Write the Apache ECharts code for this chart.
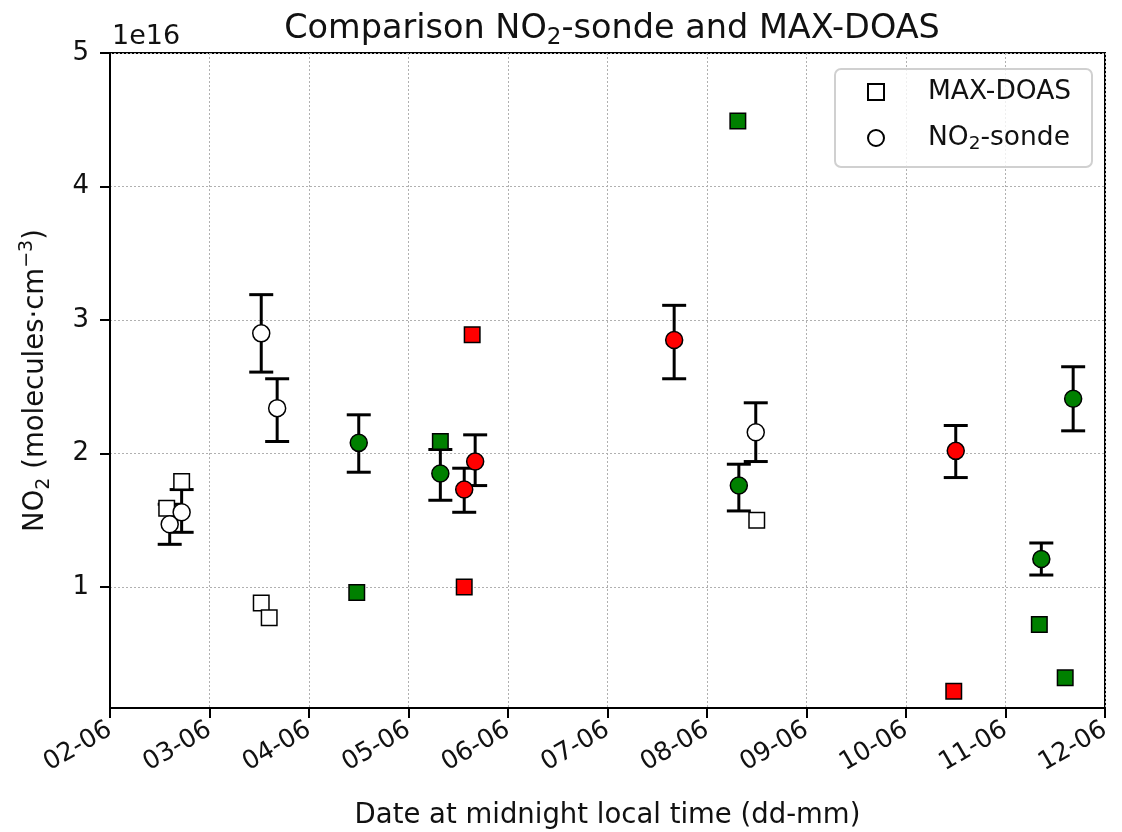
<!DOCTYPE html>
<html>
<head>
<meta charset="utf-8">
<script src="https://cdn.jsdelivr.net/npm/echarts@6/dist/echarts.min.js"></script>
<style>html,body{margin:0;padding:0;background:#fff}#c{width:1122px;height:832px}</style>
</head>
<body>
<div id="c"></div>
<script>
// x: day of June (fractional), y: NO2 in units of 1e16 molecules/cm^3
const xTickLabels = ['02-06','03-06','04-06','05-06','06-06','07-06','08-06','09-06','10-06','11-06','12-06'];
const yTickValues = [1, 2, 3, 4, 5];

// MAX-DOAS (squares)
const doasWhiteX = [2.57, 2.72, 3.52, 3.60, 8.50];
const doasWhiteY = [1.59, 1.79, 0.88, 0.77, 1.50];
const doasGreenX = [4.48, 5.32, 8.31, 11.34, 11.60];
const doasGreenY = [0.96, 2.09, 4.49, 0.72, 0.32];
const doasRedX = [5.64, 5.56, 10.48];
const doasRedY = [2.89, 1.00, 0.22];

// NO2-sonde (circles) with error bars
const sondeWhiteX = [2.60, 2.72, 3.52, 3.68, 8.49];
const sondeWhiteY = [1.47, 1.56, 2.90, 2.34, 2.16];
const sondeWhiteLo = [1.32, 1.41, 2.61, 2.09, 1.94];
const sondeWhiteHi = [1.62, 1.73, 3.19, 2.56, 2.38];

const sondeGreenX = [4.50, 5.32, 8.32, 11.36, 11.68];
const sondeGreenY = [2.08, 1.85, 1.76, 1.21, 2.41];
const sondeGreenLo = [1.86, 1.65, 1.57, 1.09, 2.17];
const sondeGreenHi = [2.29, 2.03, 1.92, 1.33, 2.65];

const sondeRedX = [5.56, 5.67, 7.67, 10.50];
const sondeRedY = [1.73, 1.94, 2.85, 2.02];
const sondeRedLo = [1.56, 1.76, 2.56, 1.82];
const sondeRedHi = [1.89, 2.14, 3.11, 2.21];

const FONT = 'DejaVu Sans';
const zip2 = (a, b) => a.map((v, i) => [v, b[i]]);
const zip3 = (a, b, c) => a.map((v, i) => [v, b[i], c[i]]);

function errSeries(x, lo, hi) {
  return {
    type: 'custom',
    silent: true,
    z: 2,
    data: zip3(x, lo, hi),
    encode: { x: 0, y: [1, 2] },
    renderItem: function (params, api) {
      const xv = api.value(0);
      const p1 = api.coord([xv, api.value(1)]);
      const p2 = api.coord([xv, api.value(2)]);
      const w = 12;
      const st = { stroke: '#000', lineWidth: 3 };
      return {
        type: 'group',
        children: [
          { type: 'line', shape: { x1: p1[0], y1: p1[1], x2: p2[0], y2: p2[1] }, style: st },
          { type: 'line', shape: { x1: p1[0] - w, y1: p1[1], x2: p1[0] + w, y2: p1[1] }, style: st },
          { type: 'line', shape: { x1: p2[0] - w, y1: p2[1], x2: p2[0] + w, y2: p2[1] }, style: st }
        ]
      };
    }
  };
}
function pts(name, x, y, symbol, color, size) {
  return {
    name: name,
    type: 'scatter',
    symbol: symbol,
    symbolSize: size,
    z: 3,
    data: zip2(x, y),
    itemStyle: { color: color, borderColor: '#000', borderWidth: 1.5, opacity: 1 },
    emphasis: { disabled: true }
  };
}

const chart = echarts.init(document.getElementById('c'), null, { renderer: 'canvas' });
const option = {
  backgroundColor: '#fff',
  animation: false,
  textStyle: { fontFamily: FONT },
  title: {
    text: 'Comparison NO{sub|2}-sonde and MAX-DOAS',
    left: 607,
    top: 3,
    textAlign: 'center',
    textStyle: {
      fontFamily: FONT, fontSize: 33.5, fontWeight: 'normal', color: '#111', lineHeight: 42,
      rich: { sub: { fontFamily: FONT, fontSize: 23, verticalAlign: 'bottom', lineHeight: 42 } }
    }
  },
  graphic: [
    {
      type: 'text', left: 112, top: 23,
      style: { text: '1e16', fontFamily: FONT, fontSize: 27, fill: '#111' }
    },
    {
      type: 'rect', z: 3,
      shape: { x: 835, y: 69, width: 257, height: 98, r: 6 },
      style: { fill: 'rgba(255,255,255,0.8)', stroke: '#d0d0d0', lineWidth: 2 }
    }
  ],
  legend: {
    orient: 'vertical',
    left: 835, top: 69,
    padding: [7, 0, 0, 32],
    itemWidth: 16, itemHeight: 16,
    itemGap: 14,
    selectedMode: false,
    z: 5,
    data: [
      { name: 'MAX-DOAS', icon: 'rect' },
      { name: 'NO2-sonde', icon: 'circle' }
    ],
    formatter: function (n) { return n === 'NO2-sonde' ? 'NO{sub|2}-sonde' : n; },
    textStyle: {
      fontFamily: FONT, fontSize: 26.5, color: '#111', lineHeight: 32,
      padding: [0, 0, 0, 39],
      rich: { sub: { fontFamily: FONT, fontSize: 18.5, verticalAlign: 'bottom', lineHeight: 32 } }
    }
  },
  grid: {
    left: 110, right: 17, top: 53, bottom: 124,
    outerBoundsMode: 'none', containLabel: false,
    show: true, borderColor: '#000', borderWidth: 2, backgroundColor: 'transparent'
  },
  xAxis: {
    type: 'value', min: 2, max: 12, interval: 1,
    name: 'Date at midnight local time (dd-mm)',
    nameLocation: 'middle', nameGap: 94,
    nameTextStyle: { fontFamily: FONT, fontSize: 27.5, color: '#111' },
    axisLine: { show: true, lineStyle: { color: '#000', width: 2 } },
    axisTick: { show: true, inside: false, length: 10, lineStyle: { color: '#000', width: 2 } },
    axisLabel: {
      rotate: 30, margin: 20, fontFamily: FONT, fontSize: 25.5, color: '#111',
      formatter: function (v) { return xTickLabels[Math.round(v) - 2]; }
    },
    splitLine: { show: true, lineStyle: { color: '#b0b0b0', type: [2, 2], width: 1 } }
  },
  yAxis: {
    type: 'value', min: 0.094, max: 5,
    name: 'NO{sub|2} (molecules·cm{sup|−3})',
    nameLocation: 'middle', nameGap: 56,
    nameTextStyle: {
      fontFamily: FONT, fontSize: 27.5, color: '#111', lineHeight: 36,
      rich: {
        sub: { fontFamily: FONT, fontSize: 19, verticalAlign: 'bottom', lineHeight: 36 },
        sup: { fontFamily: FONT, fontSize: 19, verticalAlign: 'top', lineHeight: 36 }
      }
    },
    axisLine: { show: true, lineStyle: { color: '#000', width: 2 } },
    axisTick: { show: true, inside: false, length: 10, lineStyle: { color: '#000', width: 2 }, customValues: yTickValues },
    axisLabel: { fontFamily: FONT, fontSize: 26, color: '#111', margin: 21, customValues: yTickValues },
    splitLine: { show: true, lineStyle: { color: '#b0b0b0', type: [2, 2], width: 1 } }
  },
  series: [
    errSeries(sondeWhiteX, sondeWhiteLo, sondeWhiteHi),
    errSeries(sondeGreenX, sondeGreenLo, sondeGreenHi),
    errSeries(sondeRedX, sondeRedLo, sondeRedHi),
    pts('MAX-DOAS', doasWhiteX, doasWhiteY, 'rect', '#ffffff', 15.5),
    pts('doas-green', doasGreenX, doasGreenY, 'rect', '#008000', 15.5),
    pts('doas-red', doasRedX, doasRedY, 'rect', '#ff0000', 15.5),
    pts('NO2-sonde', sondeWhiteX, sondeWhiteY, 'circle', '#ffffff', 17),
    pts('sonde-green', sondeGreenX, sondeGreenY, 'circle', '#008000', 17),
    pts('sonde-red', sondeRedX, sondeRedY, 'circle', '#ff0000', 17)
  ]
};
chart.setOption(option);
</script>
</body>
</html>
